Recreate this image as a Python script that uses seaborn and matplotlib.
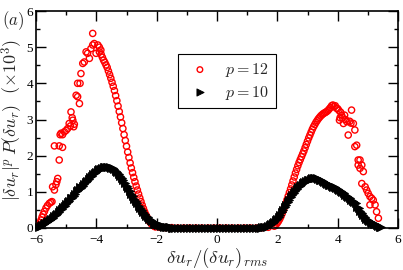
import numpy as np
import pandas as pd
import matplotlib
matplotlib.use("Agg")
import matplotlib.pyplot as plt
import seaborn as sns
from matplotlib.ticker import MultipleLocator

# ---- p = 12 (red open circles) ----
# left tail (noisy part)
red_lx = [-5.90, -5.86, -5.83, -5.80, -5.76, -5.72, -5.67, -5.62, -5.56, -5.51,
          -5.47, -5.45, -5.39, -5.34, -5.31, -5.28, -5.23, -5.39, -5.23, -5.12,
          -5.20, -5.17, -5.12, -5.06, -5.00, -4.95, -4.90, -4.86, -4.84, -4.80,
          -4.78, -4.75, -4.73, -4.67, -4.62, -4.56, -4.62, -4.54, -4.51, -4.45,
          -4.40, -4.34, -4.29, -4.23, -4.18, -4.12, -4.07, -4.01, -3.95, -3.90,
          -3.85, -4.12, -3.90]
red_ly = [0.08, 0.15, 0.22, 0.30, 0.38, 0.46, 0.55, 0.62, 0.68, 0.71,
          0.73, 1.14, 1.05, 1.20, 1.28, 1.37, 1.88, 2.27, 2.27, 2.23,
          2.58, 2.62, 2.58, 2.66, 2.70, 2.75, 2.89, 2.82, 3.21, 3.05,
          2.98, 2.80, 2.87, 3.67, 3.63, 3.44, 4.00, 4.00, 4.27, 4.55,
          4.59, 4.87, 4.83, 4.69, 4.96, 5.06, 5.10, 4.83, 5.06, 5.00,
          4.92, 5.38, 4.87]
# left descent
red_dx = [-3.84, -3.80, -3.76, -3.72, -3.68, -3.64, -3.60, -3.56, -3.52, -3.48,
          -3.44, -3.40, -3.36, -3.32, -3.28, -3.24, -3.20, -3.16, -3.12, -3.08,
          -3.04, -3.00, -2.96, -2.92, -2.88, -2.84, -2.80, -2.76, -2.72, -2.68,
          -2.64, -2.60, -2.56, -2.52, -2.48, -2.44, -2.40, -2.36, -2.32, -2.28,
          -2.24, -2.20, -2.16, -2.12, -2.08, -2.04]
red_dy = [4.80, 4.72, 4.64, 4.58, 4.51, 4.44, 4.34, 4.24, 4.14, 4.03,
          3.92, 3.80, 3.66, 3.52, 3.37, 3.22, 3.07, 2.91, 2.75, 2.58,
          2.42, 2.26, 2.10, 1.95, 1.80, 1.66, 1.53, 1.40, 1.28, 1.16,
          1.05, 0.94, 0.83, 0.73, 0.63, 0.54, 0.45, 0.37, 0.30, 0.24,
          0.18, 0.14, 0.10, 0.07, 0.05, 0.03]
# middle (flat)
red_mx = [-1.9, -1.7, -1.5, -1.3, -1.1, -0.9, -0.7, -0.5, -0.3, -0.1,
          0.1, 0.3, 0.5, 0.7, 0.9, 1.1, 1.3, 1.5, 1.7, 1.9]
red_my = [0.02, 0.01, 0.01, 0.0, 0.0, 0.0, 0.0, 0.0, 0.0, 0.0,
          0.0, 0.0, 0.0, 0.0, 0.0, 0.0, 0.0, 0.01, 0.02, 0.05]
# right ascent
red_ax = [1.96, 2.00, 2.04, 2.08, 2.12, 2.16, 2.20, 2.24, 2.28, 2.32,
          2.36, 2.40, 2.44, 2.48, 2.52, 2.56, 2.60, 2.64, 2.68, 2.72,
          2.76, 2.80, 2.84, 2.88, 2.92, 2.96, 3.00, 3.04, 3.08, 3.12,
          3.16, 3.20, 3.24, 3.28, 3.32, 3.36, 3.40, 3.44, 3.48, 3.52,
          3.56, 3.60, 3.64, 3.68, 3.72]
red_ay = [0.10, 0.14, 0.19, 0.25, 0.32, 0.40, 0.49, 0.58, 0.68, 0.78,
          0.88, 0.98, 1.08, 1.19, 1.30, 1.41, 1.52, 1.62, 1.72, 1.81,
          1.89, 1.97, 2.05, 2.13, 2.22, 2.31, 2.40, 2.49, 2.57, 2.65,
          2.73, 2.80, 2.86, 2.92, 2.97, 3.02, 3.06, 3.10, 3.13, 3.16,
          3.18, 3.20, 3.22, 3.25, 3.29]
# right tail (noisy part)
red_tx = [3.76, 3.80, 3.84, 3.88, 3.92, 3.96, 4.00, 4.04, 4.06, 4.08,
          4.13, 4.19, 4.23, 4.30, 4.35, 4.46, 4.52, 4.57, 4.63, 4.57,
          4.68, 4.74, 4.68, 4.74, 4.80, 4.85, 4.80, 4.91, 4.96, 5.01,
          5.07, 5.13, 5.18, 5.07, 5.24, 5.29, 5.35, 4.10, 4.16, 4.26,
          4.40, 4.44]
red_ty = [3.33, 3.38, 3.40, 3.36, 3.38, 3.31, 3.30, 3.25, 2.98, 3.05,
          3.12, 2.89, 3.12, 2.94, 2.57, 3.26, 2.89, 2.71, 2.29, 2.25,
          1.88, 1.88, 1.74, 1.65, 1.74, 1.56, 1.23, 1.14, 1.05, 0.96,
          0.87, 0.82, 0.77, 0.64, 0.64, 0.45, 0.27, 3.20, 3.05, 3.00,
          2.95, 2.90]

# ---- p = 10 (black triangles) ----
blk_lx = [-5.90, -5.85, -5.80, -5.75, -5.70, -5.65, -5.60, -5.55, -5.50, -5.45,
          -5.40, -5.35, -5.30, -5.25, -5.20, -5.15, -5.10, -5.05, -5.00, -4.95,
          -4.90, -4.85, -4.80, -4.75, -4.70, -4.65, -4.60, -4.55, -4.50, -4.45,
          -4.40, -4.35, -4.30, -4.25, -4.20, -4.15, -4.10, -4.05, -4.00, -3.95,
          -3.90, -3.85, -3.80, -3.75, -3.70, -3.65, -3.60, -3.55, -3.50, -3.45,
          -3.40, -3.35, -3.30, -3.25, -3.20, -3.15, -3.10, -3.05, -3.00, -2.95,
          -2.90, -2.85, -2.80, -2.75, -2.70, -2.65, -2.60, -2.55, -2.50, -2.45,
          -2.40, -2.35, -2.30, -2.25, -2.20, -2.15, -2.10, -2.05, -2.00, -1.95,
          -1.90, -1.85, -1.80, -1.75, -1.70, -1.65, -1.60, -1.55, -1.50, -1.45,
          -1.40]
blk_ly = [0.03, 0.06, 0.09, 0.12, 0.13, 0.17, 0.19, 0.22, 0.26, 0.28,
          0.33, 0.36, 0.40, 0.44, 0.50, 0.52, 0.58, 0.62, 0.66, 0.72,
          0.76, 0.84, 0.83, 0.89, 0.94, 1.03, 1.05, 1.12, 1.10, 1.16,
          1.22, 1.27, 1.30, 1.36, 1.40, 1.44, 1.49, 1.52, 1.56, 1.59,
          1.62, 1.64, 1.66, 1.68, 1.69, 1.70, 1.69, 1.69, 1.67, 1.65,
          1.62, 1.58, 1.54, 1.50, 1.45, 1.38, 1.32, 1.24, 1.17, 1.10,
          1.02, 0.95, 0.88, 0.81, 0.75, 0.68, 0.62, 0.56, 0.50, 0.44,
          0.39, 0.34, 0.30, 0.26, 0.22, 0.18, 0.15, 0.12, 0.10, 0.08,
          0.07, 0.06, 0.05, 0.04, 0.03, 0.03, 0.02, 0.02, 0.01, 0.01,
          0.01]
blk_mx = [-1.3, -1.2, -1.1, -1.0, -0.9, -0.8, -0.7, -0.6, -0.5, -0.4,
          -0.3, -0.2, -0.1, 0.0, 0.1, 0.2, 0.3, 0.4, 0.5, 0.6,
          0.7, 0.8, 0.9, 1.0, 1.1, 1.2, 1.3]
blk_my = [0.0] * 27
blk_rx = [1.40, 1.45, 1.50, 1.55, 1.60, 1.65, 1.70, 1.75, 1.80, 1.85,
          1.90, 1.95, 2.00, 2.05, 2.10, 2.15, 2.20, 2.25, 2.30, 2.35,
          2.40, 2.45, 2.50, 2.55, 2.60, 2.65, 2.70, 2.75, 2.80, 2.85,
          2.90, 2.95, 3.00, 3.05, 3.10, 3.15, 3.20, 3.25, 3.30, 3.35,
          3.40, 3.45, 3.50, 3.55, 3.60, 3.65, 3.70, 3.75, 3.80, 3.85,
          3.90, 3.95, 4.00, 4.05, 4.10, 4.15, 4.20, 4.25, 4.30, 4.35,
          4.40, 4.45, 4.50, 4.55, 4.60, 4.65, 4.70, 4.75, 4.80, 4.85,
          4.90, 4.95, 5.00, 5.05, 5.10, 5.15, 5.20, 5.25, 5.30, 5.35,
          5.40, 5.45]
blk_ry = [0.01, 0.01, 0.02, 0.02, 0.03, 0.04, 0.06, 0.08, 0.10, 0.13,
          0.17, 0.21, 0.26, 0.31, 0.37, 0.43, 0.50, 0.57, 0.64, 0.71,
          0.78, 0.85, 0.91, 0.97, 1.02, 1.07, 1.12, 1.16, 1.20, 1.24,
          1.27, 1.30, 1.32, 1.34, 1.36, 1.37, 1.38, 1.38, 1.37, 1.36,
          1.34, 1.32, 1.30, 1.27, 1.25, 1.22, 1.20, 1.18, 1.16, 1.14,
          1.12, 1.10, 1.08, 1.05, 1.02, 0.99, 0.96, 0.92, 0.89, 0.85,
          0.82, 0.78, 0.75, 0.71, 0.68, 0.59, 0.56, 0.48, 0.42, 0.36,
          0.31, 0.26, 0.22, 0.19, 0.17, 0.14, 0.12, 0.10, 0.08, 0.06,
          0.04, 0.02]

df_red = pd.DataFrame({"x": red_lx + red_dx + red_mx + red_ax + red_tx,
                       "y": red_ly + red_dy + red_my + red_ay + red_ty})
df_blk = pd.DataFrame({"x": blk_lx + blk_mx + blk_rx,
                       "y": blk_ly + blk_my + blk_ry})

sns.set_style("ticks")
plt.rcParams["font.family"] = ["Liberation Serif", "DejaVu Serif"]
plt.rcParams["mathtext.fontset"] = "cm"

fig = plt.figure(figsize=(4.03, 2.70), dpi=100)
ax = fig.add_axes([36 / 403, 42 / 270, 362 / 403, 217 / 270])

sns.scatterplot(data=df_red, x="x", y="y", marker="o", s=20, fc="none", ec="red",
                linewidth=1.0, label="$p = 12$", ax=ax, clip_on=False, zorder=2)
sns.scatterplot(data=df_blk, x="x", y="y", marker=">", s=32, color="black", ec="black",
                linewidth=0.7, label="$p = 10$", ax=ax, clip_on=False, zorder=3)

ax.set_xlim(-6, 6)
ax.set_ylim(0, 6)
ax.xaxis.set_major_locator(MultipleLocator(2))
ax.xaxis.set_minor_locator(MultipleLocator(1))
ax.yaxis.set_major_locator(MultipleLocator(1))
ax.yaxis.set_minor_locator(MultipleLocator(0.5))
ax.tick_params(which="both", direction="in", top=True, right=True, width=1.0,
               colors="black", labelsize=9.5, pad=2)
ax.tick_params(axis="x", which="major", pad=4.5)
ax.tick_params(which="major", length=7)
ax.tick_params(which="minor", length=3.2)
for sp in ax.spines.values():
    sp.set_linewidth(1.2)
    sp.set_color("black")

ax.set_xlabel(r"$\delta u_r/(\delta u_r)_{rms}$", fontsize=13.5, labelpad=0)
ax.set_ylabel(r"$|\delta u_r|^p\,P(\delta u_r)\ \ (\times 10^3)$", fontsize=13, labelpad=1)
fig.text(0.005, 0.965, r"$(a)$", fontsize=12, ha="left", va="top")

leg = ax.legend(loc="upper left", bbox_to_anchor=(0.391, 0.80), borderaxespad=0,
                frameon=True, fancybox=False, edgecolor="black", framealpha=1,
                fontsize=11.5, handletextpad=0.6, borderpad=0.4, labelspacing=0.3,
                markerscale=0.9)
leg.get_frame().set_linewidth(0.8)

plt.savefig("out.png", dpi=100)
